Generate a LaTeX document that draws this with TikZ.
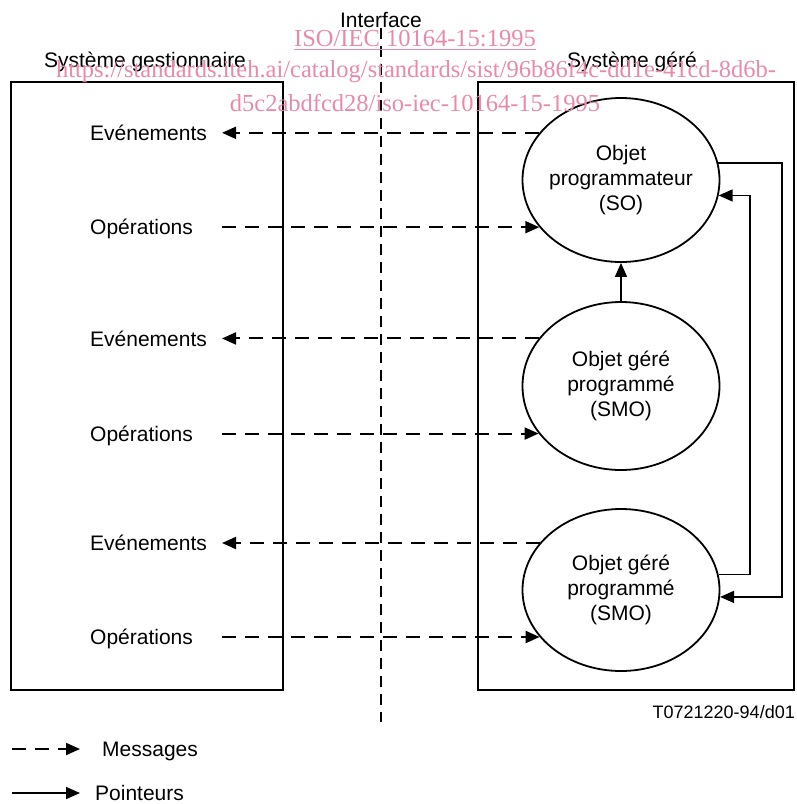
\documentclass[tikz,border=0pt]{standalone}
\usepackage{fontspec}
\setmainfont{Liberation Sans}
\newfontfamily\wmfont{Liberation Serif}
\usetikzlibrary{arrows.meta, shapes.geometric}
\definecolor{inkline}{HTML}{000000}
\definecolor{wmpink}{HTML}{E98AA8}
\tikzset{
  sysbox/.style={rectangle, draw=inkline, line width=1.8pt, inner sep=0pt},
  objet/.style={ellipse, draw=inkline, line width=1.8pt, align=center,
                inner xsep=-8pt, inner ysep=0pt, minimum width=197pt,
                font=\fontsize{21}{25}\selectfont},
  lbl/.style={font=\fontsize{21}{25}\selectfont, text=inkline, inner sep=0pt,
              text depth=0pt},
  message/.style={-{Triangle[length=14pt,width=12pt]}, line width=2pt,
                  dash pattern=on 14pt off 9pt, draw=inkline},
  pointer/.style={-{Triangle[length=14pt,width=12pt]}, line width=1.4pt, draw=inkline},
  iface/.style={line width=1.5pt, dash pattern=on 11pt off 7pt, draw=inkline},
  watermark/.style={font=\wmfont\fontsize{24.5}{30}\selectfont, text=wmpink, inner sep=0pt},
}

\begin{document}
\begin{tikzpicture}[x=1pt, y=-1pt]
\useasboundingbox (0,0) rectangle (796,804);

% Column guides
\coordinate (lcol) at (90,0);
\coordinate (tipcol) at (222,0);
\coordinate (outer) at (782,0);
\coordinate (inner) at (750,0);
\coordinate (ifend) at (380,722);

% Titles
\node[lbl] (iftitle) at (381,20) {Interface};
\node[lbl] (gesttitle) at (145,60) {Système gestionnaire};
\node[lbl] (geretitle) at (632,60) {Système géré};

% The two systems
\node[sysbox, minimum width=272pt, minimum height=608pt] (gest) at (147,386) {};
\node[sysbox, minimum width=316pt, minimum height=608pt] (gere) at (636,386) {};

% Interface line
\draw[iface] (iftitle.south) -- (iftitle.south |- ifend);

% Objects in the managed system
\node[objet, minimum height=164pt] (so) at (621,180) {Objet\\programmateur\\(SO)};
\node[objet, minimum height=168pt] (smo1) at (621,386) {Objet géré\\programmé\\(SMO)};
\node[objet, minimum height=162pt] (smo2) at (621,590) {Objet géré\\programmé\\(SMO)};

% Labels on the managing side
\node[lbl, anchor=west] (ev1) at (lcol |- so.150) {Evénements};
\node[lbl, anchor=west] (op1) at (lcol |- so.210) {Opérations};
\node[lbl, anchor=west] (ev2) at (lcol |- smo1.150) {Evénements};
\node[lbl, anchor=west] (op2) at (lcol |- smo1.210) {Opérations};
\node[lbl, anchor=west] (ev3) at (lcol |- smo2.150) {Evénements};
\node[lbl, anchor=west] (op3) at (lcol |- smo2.210) {Opérations};

% Messages across the interface
\draw[message] (so.150) -- (tipcol |- so.150);
\draw[message] (tipcol |- so.210) -- (so.210);
\draw[message] (smo1.150) -- (tipcol |- smo1.150);
\draw[message] (tipcol |- smo1.210) -- (smo1.210);
\draw[message] (smo2.150) -- (tipcol |- smo2.150);
\draw[message] (tipcol |- smo2.210) -- (smo2.210);

% Pointers between objects
\draw[pointer] (smo1.north) -- (so.south);
\draw[pointer] (so.10) -| (outer |- smo2.356) -- (smo2.356);
\draw[pointer] (smo2.9) -| (inner |- so.351) -- (so.351);

% Figure reference
\node[lbl, font=\fontsize{18}{22}\selectfont, anchor=east] (figid) at (795,712) {T0721220-94/d01};

% Legend
\coordinate (lgmsg) at (12,749);
\coordinate (lgptr) at (12,793);
\node[lbl, anchor=west] (msglbl) at (102,749) {Messages};
\node[lbl, anchor=west] (ptrlbl) at (95,793) {Pointeurs};
\draw[message] (lgmsg) -- ([xshift=-22pt]lgmsg -| msglbl.west);
\draw[pointer] (lgptr) -- ([xshift=-15pt]lgptr -| ptrlbl.west);

% Watermark on top
\node[watermark] (wmiso) at (415,40) {\underline{ISO/IEC 10164-15:1995}};
\node[watermark] (wmurl1) at (416,72) {https://standards.iteh.ai/catalog/standards/sist/96b86f4c-dd1e-41cd-8d6b-};
\node[watermark] (wmurl2) at (415,103) {d5c2abdfcd28/iso-iec-10164-15-1995};

\end{tikzpicture}
\end{document}
